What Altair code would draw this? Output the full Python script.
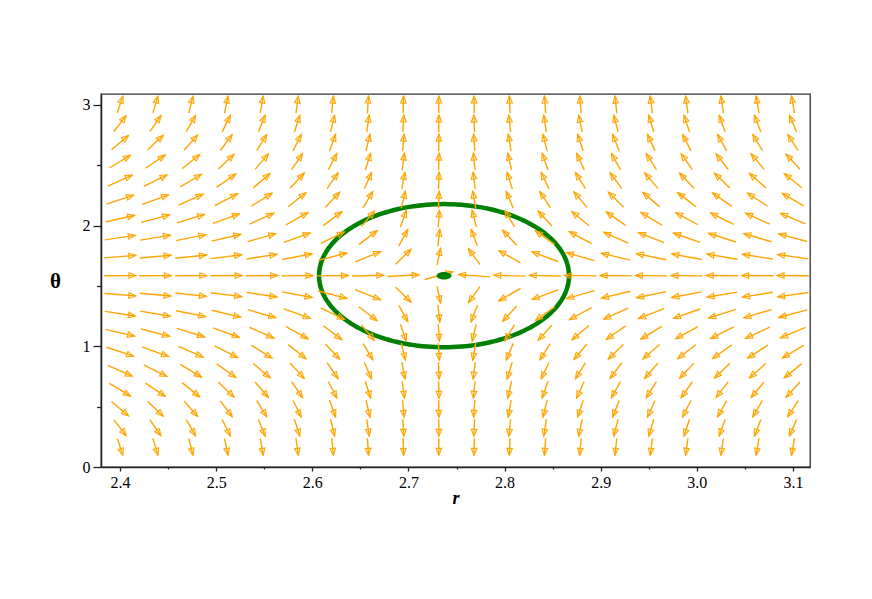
import math
import altair as alt
import pandas as pd

# ---- data ----
r_grid = [2.4, 2.4368, 2.4737, 2.5105, 2.5474, 2.5842, 2.6211, 2.6579, 2.6947, 2.7316,
          2.7684, 2.8053, 2.8421, 2.8789, 2.9158, 2.9526, 2.9895, 3.0263, 3.0632, 3.1]
theta_grid = [0.1675, 0.325, 0.4825, 0.64, 0.7975, 0.955, 1.1125, 1.27, 1.4275, 1.585,
              1.7425, 1.90, 2.0575, 2.215, 2.3725, 2.53, 2.6875, 2.845, 3.0025]
# r-component of the field per column (grid-normalised units)
F = [1.23, 1.10, 0.92, 0.78, 0.64, 0.51, 0.38, 0.24, 0.10, 0.02,
     -0.07, -0.17, -0.26, -0.34, -0.41, -0.47, -0.52, -0.57, -0.62, -0.68]
# theta-component of the field per row (grid-normalised units), bottom to top
G = [-7.0, -2.95, -1.94, -1.38, -1.02, -0.75, -0.53, -0.34, -0.18, 0.01,
     0.18, 0.34, 0.53, 0.75, 1.02, 1.38, 1.94, 2.95, 7.0]

x_major = [2.4, 2.5, 2.6, 2.7, 2.8, 2.9, 3.0, 3.1]
x_minor = [2.45, 2.55, 2.65, 2.75, 2.85, 2.95, 3.05]
y_major = [0, 1, 2, 3]
y_minor = [0.5, 1.5, 2.5]

centre_r, centre_theta = 2.737, 1.585
semi_r, semi_theta = 0.130, 0.593

# ---- layout / style ----
X_DOMAIN = [2.3802, 3.1177]
Y_DOMAIN = [0.0, 3.09]
W, H = 709, 373
ORANGE = "#ffa500"
GREEN = "#008000"
FONT = "Liberation Serif"

px_r = W / (X_DOMAIN[1] - X_DOMAIN[0])
px_t = H / (Y_DOMAIN[1] - Y_DOMAIN[0])
dr_cell = r_grid[1] - r_grid[0]
dt_cell = theta_grid[1] - theta_grid[0]
L = 0.9
HEAD_BACK = 3.5

rows = []
for i, t in enumerate(theta_grid):
    for j, r in enumerate(r_grid):
        u, v = F[j], G[i]
        n = math.hypot(u, v)
        u, v = u / n, v / n
        hr = L * dr_cell * u / 2
        ht = L * dt_cell * v / 2
        sx, sy = hr * px_r, ht * px_t
        sl = math.hypot(sx, sy)
        ux, uy = sx / sl, sy / sl
        tip_r, tip_t = r + hr, t + ht
        rows.append({
            "r0": r - hr, "t0": t - ht, "r1": tip_r, "t1": tip_t,
            "hx": tip_r - HEAD_BACK * ux / px_r,
            "hy": tip_t - HEAD_BACK * uy / px_t,
            "angle": math.degrees(math.atan2(ux, uy)) % 360,
        })
arrows = pd.DataFrame(rows)

ell = pd.DataFrame({
    "idx": list(range(181)),
    "r": [centre_r + semi_r * math.cos(2 * math.pi * k / 180) for k in range(181)],
    "t": [centre_theta + semi_theta * math.sin(2 * math.pi * k / 180) for k in range(181)],
})
dot = pd.DataFrame({"r": [centre_r], "t": [centre_theta]})

xs = alt.Scale(domain=X_DOMAIN, nice=False, zero=False)
ys = alt.Scale(domain=Y_DOMAIN, nice=False, zero=False)

x_test = "abs(datum.value*10 - round(datum.value*10)) < 0.01"
y_test = "abs(datum.value - round(datum.value)) < 0.01"

xaxis = alt.Axis(
    values=sorted(x_major + x_minor), title="r", grid=False,
    labelExpr=f"{x_test} ? format(datum.value, '.1f') : ''",
    tickSize={"condition": {"test": x_test, "value": 4}, "value": 2},
    tickColor="#222", domainColor="#222", domainWidth=1.5, tickWidth=1.3,
    labelFont=FONT, labelFontSize=16, labelColor="#000", labelPadding=3,
    titleFont=FONT, titleFontSize=18, titleFontStyle="italic", titleFontWeight="bold",
    titleColor="#000", titleBaseline="middle", titleY=31,
)
yaxis = alt.Axis(
    values=sorted(y_major + y_minor), title="θ", grid=False,
    labelExpr=f"{y_test} ? format(datum.value, 'd') : ''",
    tickSize={"condition": {"test": y_test, "value": 8}, "value": 4.5},
    tickColor="#222", domainColor="#222", domainWidth=1.5, tickWidth=1.3,
    labelFont=FONT, labelFontSize=16, labelColor="#000", labelPadding=3,
    titleFont=FONT, titleFontSize=21, titleFontWeight="bold", titleColor="#000",
    titleAngle=0, titleAlign="center", titleBaseline="middle", titleX=-46, titleY=187,
)

ellipse = alt.Chart(ell).mark_line(color=GREEN, strokeWidth=4.5).encode(
    x=alt.X("r:Q", scale=xs, axis=xaxis),
    y=alt.Y("t:Q", scale=ys, axis=yaxis),
    order="idx:Q",
)
shafts = alt.Chart(arrows).mark_rule(color=ORANGE, strokeWidth=1.4).encode(
    x=alt.X("r0:Q", scale=xs, axis=xaxis),
    y=alt.Y("t0:Q", scale=ys, axis=yaxis),
    x2="r1:Q", y2="t1:Q",
)
HEAD_PATH = "M0,-1L0.8,1L-0.8,1Z"
heads = alt.Chart(arrows).mark_point(
    shape=HEAD_PATH, filled=False, size=49, color=ORANGE, strokeWidth=1.1, opacity=1
).encode(
    x=alt.X("hx:Q", scale=xs, axis=xaxis),
    y=alt.Y("hy:Q", scale=ys, axis=yaxis),
    angle=alt.Angle("angle:Q", scale=None),
)
DOT_PATH = "M-1,0A1,0.5,0,1,0,1,0A1,0.5,0,1,0,-1,0Z"
centre = alt.Chart(dot).mark_point(
    shape=DOT_PATH, filled=True, size=225, color=GREEN, opacity=1
).encode(
    x=alt.X("r:Q", scale=xs, axis=xaxis),
    y=alt.Y("t:Q", scale=ys, axis=yaxis),
)

chart = alt.layer(ellipse, shafts, heads, centre).properties(
    width=W, height=H,
    autosize=alt.AutoSizeParams(type="none"),
    padding={"left": 93, "top": 86, "right": 54, "bottom": 100},
    background="white",
).configure_view(stroke="#333", strokeWidth=1.3)

chart.save("out.html", embed_options={"renderer": "svg", "actions": False})
